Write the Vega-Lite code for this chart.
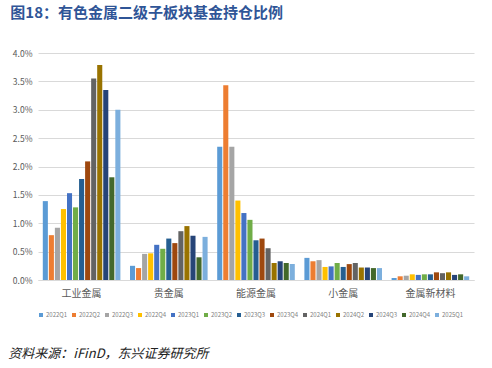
{
  "$schema": "https://vega.github.io/schema/vega-lite/v6.json",
  "padding": {"left": 8, "top": 6, "right": 12, "bottom": 4},
  "background": "white",
  "config": {
    "font": "Noto Sans CJK SC",
    "view": {"stroke": null}
  },
  "title": {
    "text": "资料来源：iFinD，东兴证券研究所",
    "orient": "bottom",
    "anchor": "start",
    "fontSize": 13,
    "fontStyle": "italic",
    "fontWeight": "normal",
    "color": "#222222",
    "offset": 30,
    "dx": -2,
    "font": "Noto Sans CJK SC"
  },
  "vconcat": [
    {
      "title": {
        "text": "图18：有色金属二级子板块基金持仓比例",
        "anchor": "start",
        "fontSize": 15,
        "fontWeight": "bold",
        "color": "#2F5597",
        "offset": 28,
        "dx": -2,
        "font": "Noto Sans CJK SC"
      },
      "width": 436,
      "height": 227,
      "data": {
        "values": [
          {"cat": "工业金属", "q": "2022Q1", "v": 1.39},
          {"cat": "工业金属", "q": "2022Q2", "v": 0.79},
          {"cat": "工业金属", "q": "2022Q3", "v": 0.92},
          {"cat": "工业金属", "q": "2022Q4", "v": 1.25},
          {"cat": "工业金属", "q": "2023Q1", "v": 1.53},
          {"cat": "工业金属", "q": "2023Q2", "v": 1.28},
          {"cat": "工业金属", "q": "2023Q3", "v": 1.78},
          {"cat": "工业金属", "q": "2023Q4", "v": 2.09},
          {"cat": "工业金属", "q": "2024Q1", "v": 3.55},
          {"cat": "工业金属", "q": "2024Q2", "v": 3.79},
          {"cat": "工业金属", "q": "2024Q3", "v": 3.35},
          {"cat": "工业金属", "q": "2024Q4", "v": 1.81},
          {"cat": "工业金属", "q": "2025Q1", "v": 3.0},
          {"cat": "贵金属", "q": "2022Q1", "v": 0.25},
          {"cat": "贵金属", "q": "2022Q2", "v": 0.21},
          {"cat": "贵金属", "q": "2022Q3", "v": 0.46},
          {"cat": "贵金属", "q": "2022Q4", "v": 0.47},
          {"cat": "贵金属", "q": "2023Q1", "v": 0.62},
          {"cat": "贵金属", "q": "2023Q2", "v": 0.55},
          {"cat": "贵金属", "q": "2023Q3", "v": 0.73},
          {"cat": "贵金属", "q": "2023Q4", "v": 0.65},
          {"cat": "贵金属", "q": "2024Q1", "v": 0.86},
          {"cat": "贵金属", "q": "2024Q2", "v": 0.95},
          {"cat": "贵金属", "q": "2024Q3", "v": 0.78},
          {"cat": "贵金属", "q": "2024Q4", "v": 0.4},
          {"cat": "贵金属", "q": "2025Q1", "v": 0.76},
          {"cat": "能源金属", "q": "2022Q1", "v": 2.35},
          {"cat": "能源金属", "q": "2022Q2", "v": 3.43},
          {"cat": "能源金属", "q": "2022Q3", "v": 2.35},
          {"cat": "能源金属", "q": "2022Q4", "v": 1.4},
          {"cat": "能源金属", "q": "2023Q1", "v": 1.18},
          {"cat": "能源金属", "q": "2023Q2", "v": 1.06},
          {"cat": "能源金属", "q": "2023Q3", "v": 0.7},
          {"cat": "能源金属", "q": "2023Q4", "v": 0.73},
          {"cat": "能源金属", "q": "2024Q1", "v": 0.56},
          {"cat": "能源金属", "q": "2024Q2", "v": 0.3},
          {"cat": "能源金属", "q": "2024Q3", "v": 0.33},
          {"cat": "能源金属", "q": "2024Q4", "v": 0.3},
          {"cat": "能源金属", "q": "2025Q1", "v": 0.28},
          {"cat": "小金属", "q": "2022Q1", "v": 0.39},
          {"cat": "小金属", "q": "2022Q2", "v": 0.33},
          {"cat": "小金属", "q": "2022Q3", "v": 0.35},
          {"cat": "小金属", "q": "2022Q4", "v": 0.23},
          {"cat": "小金属", "q": "2023Q1", "v": 0.24},
          {"cat": "小金属", "q": "2023Q2", "v": 0.3},
          {"cat": "小金属", "q": "2023Q3", "v": 0.23},
          {"cat": "小金属", "q": "2023Q4", "v": 0.28},
          {"cat": "小金属", "q": "2024Q1", "v": 0.3},
          {"cat": "小金属", "q": "2024Q2", "v": 0.22},
          {"cat": "小金属", "q": "2024Q3", "v": 0.22},
          {"cat": "小金属", "q": "2024Q4", "v": 0.21},
          {"cat": "小金属", "q": "2025Q1", "v": 0.21},
          {"cat": "金属新材料", "q": "2022Q1", "v": 0.035},
          {"cat": "金属新材料", "q": "2022Q2", "v": 0.065},
          {"cat": "金属新材料", "q": "2022Q3", "v": 0.076},
          {"cat": "金属新材料", "q": "2022Q4", "v": 0.1},
          {"cat": "金属新材料", "q": "2023Q1", "v": 0.09},
          {"cat": "金属新材料", "q": "2023Q2", "v": 0.1},
          {"cat": "金属新材料", "q": "2023Q3", "v": 0.1},
          {"cat": "金属新材料", "q": "2023Q4", "v": 0.135},
          {"cat": "金属新材料", "q": "2024Q1", "v": 0.12},
          {"cat": "金属新材料", "q": "2024Q2", "v": 0.135},
          {"cat": "金属新材料", "q": "2024Q3", "v": 0.09},
          {"cat": "金属新材料", "q": "2024Q4", "v": 0.1},
          {"cat": "金属新材料", "q": "2025Q1", "v": 0.065}
        ]
      },
      "mark": {"type": "bar"},
      "encoding": {
        "x": {
          "field": "cat",
          "type": "nominal",
          "sort": ["工业金属", "贵金属", "能源金属", "小金属", "金属新材料"],
          "scale": {"paddingInner": 0.11, "paddingOuter": 0.055},
          "axis": {
            "title": null,
            "labelAngle": 0,
            "labelFontSize": 10,
            "labelColor": "#595959",
            "labelPadding": 8,
            "ticks": false,
            "domainColor": "#D9D9D9",
            "domainWidth": 1
          }
        },
        "xOffset": {
          "field": "q",
          "type": "nominal",
          "scale": {"paddingInner": 0.16}
        },
        "y": {
          "field": "v",
          "type": "quantitative",
          "scale": {"domain": [0, 4], "nice": false},
          "axis": {
            "title": null,
            "values": [0, 0.5, 1, 1.5, 2, 2.5, 3, 3.5, 4],
            "labelExpr": "format(datum.value, '.1f') + '%'",
            "labelFontSize": 8.5,
            "labelColor": "#595959",
            "labelPadding": 6,
            "ticks": false,
            "domain": false,
            "gridColor": "#D9D9D9",
            "gridWidth": 1
          }
        },
        "color": {
          "field": "q",
          "type": "nominal",
          "scale": {
            "domain": ["2022Q1", "2022Q2", "2022Q3", "2022Q4", "2023Q1", "2023Q2", "2023Q3", "2023Q4", "2024Q1", "2024Q2", "2024Q3", "2024Q4", "2025Q1"],
            "range": ["#5B9BD5", "#ED7D31", "#A5A5A5", "#FFC000", "#4472C4", "#70AD47", "#255E91", "#9E480E", "#636363", "#997300", "#264478", "#43682B", "#7CAFDD"]
          },
          "legend": {
            "title": null,
            "orient": "bottom",
            "direction": "horizontal",
            "columns": 13,
            "symbolType": "square",
            "symbolSize": 16,
            "symbolStrokeWidth": 0,
            "labelFontSize": 6,
            "labelColor": "#7F7F7F",
            "labelOffset": 2,
            "columnPadding": 3,
            "offset": 14
          }
        }
      }
    }
  ]
}
